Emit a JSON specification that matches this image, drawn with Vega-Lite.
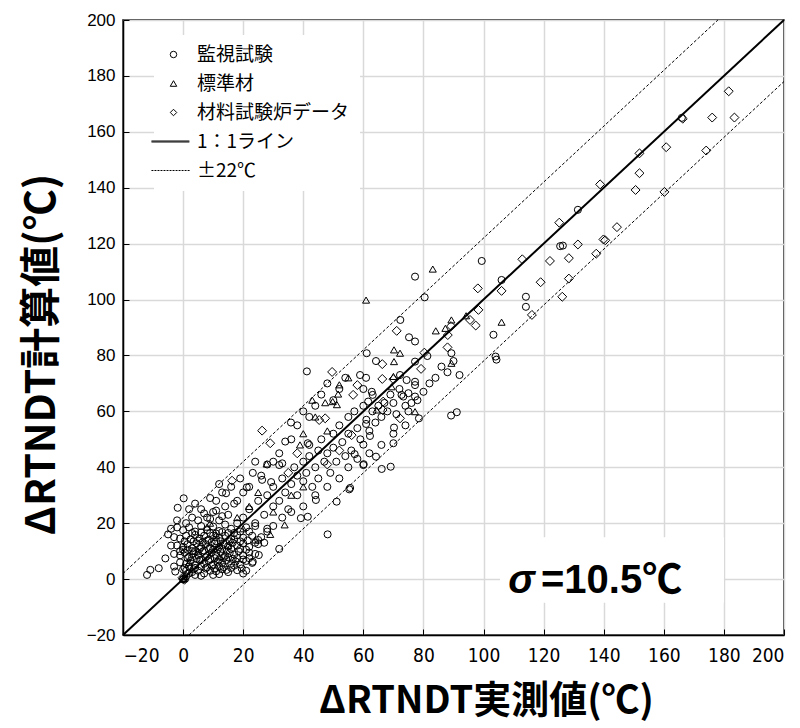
{
  "$schema": "https://vega.github.io/schema/vega-lite/v6.json",
  "width": 661,
  "height": 615,
  "autosize": "none",
  "padding": {"left": 123, "top": 20, "right": 16, "bottom": 93},
  "background": "white",
  "config": {
    "view": {"stroke": "black", "strokeWidth": 1.5},
    "font": "Liberation Sans",
    "axis": {
      "gridColor": "#d9d9d9",
      "gridWidth": 1.5,
      "domainColor": "black",
      "domainWidth": 1.5,
      "tickColor": "black",
      "tickWidth": 1,
      "tickSize": -6,
      "labelColor": "black",
      "titleColor": "black",
      "titleFont": "Noto Sans CJK JP",
      "titleFontWeight": "bold"
    }
  },
  "datasets": {
    "diamonds": [
      {"x":181.6,"y":174.5},{"x":166.3,"y":164.7},{"x":176.1,"y":165.1},{"x":183.5,"y":165.1},{"x":151.9,"y":152.3},{"x":160.8,"y":154.5},{"x":174.1,"y":153.3},{"x":151.9,"y":145.2},{"x":138.8,"y":141.2},{"x":150.6,"y":139.2},{"x":160.2,"y":138.5},{"x":125.2,"y":127.5},{"x":144.4,"y":125.9},{"x":131.4,"y":119.7},{"x":139.9,"y":121.5},{"x":140.5,"y":121.2},{"x":128.4,"y":114.8},{"x":137.5,"y":116.4},{"x":128.4,"y":107.5},{"x":126.2,"y":101},{"x":112.9,"y":114.4},{"x":122.1,"y":113.8},{"x":119,"y":106.2},{"x":98.1,"y":104},{"x":106,"y":103.1},{"x":116.1,"y":94.5},{"x":98.3,"y":96.3},{"x":95.5,"y":92.7},{"x":97.4,"y":90.7},{"x":89.2,"y":90.5},{"x":88.1,"y":87.3},{"x":71.1,"y":88.8},{"x":88,"y":82.9},{"x":80.3,"y":81},{"x":66.3,"y":76.9},{"x":79.2,"y":75.2},{"x":58,"y":69.4},{"x":66.3,"y":71.6},{"x":70,"y":71.5},{"x":56.6,"y":65.9},{"x":66.6,"y":63.5},{"x":66.4,"y":60.5},{"x":72.2,"y":57.5},{"x":56.1,"y":51.5},{"x":26.3,"y":53.1},{"x":29,"y":48.6},{"x":16.3,"y":35.2},{"x":45.3,"y":56.9},{"x":47.3,"y":57.5},{"x":49.6,"y":74.1},{"x":38,"y":45},{"x":48,"y":41},{"x":52,"y":46},{"x":35,"y":38},{"x":0,"y":0},{"x":0.3,"y":0.3},{"x":-0.2,"y":0.5},{"x":0.5,"y":-0.2}
    ],
    "triangles": [
      {"x":83.1,"y":110.9},{"x":60.9,"y":99.8},{"x":106,"y":91.9},{"x":94.2,"y":94.2},{"x":89.3,"y":92.7},{"x":87.3,"y":89.7},{"x":84.1,"y":88.8},{"x":89.3,"y":77.2},{"x":70.2,"y":82},{"x":72.2,"y":80.8},{"x":70.2,"y":77.8},{"x":69.4,"y":68.8},{"x":70,"y":72.5},{"x":64.4,"y":60.5},{"x":77.2,"y":59.9},{"x":47.3,"y":63.1},{"x":49.8,"y":63.5},{"x":51.2,"y":62.4},{"x":38.9,"y":48},{"x":27.8,"y":41.2},{"x":33.8,"y":19.4},{"x":29,"y":16},{"x":11,"y":15.8},{"x":20,"y":18},{"x":9,"y":20},{"x":8,"y":18.6},{"x":51.6,"y":66.2},{"x":52,"y":69.5},{"x":55,"y":72},{"x":44,"y":58},{"x":48,"y":53},{"x":40,"y":52},{"x":43,"y":64},{"x":2,"y":6},{"x":5,"y":10},{"x":12,"y":8},{"x":18,"y":22},{"x":22,"y":26},{"x":15,"y":12},{"x":24,"y":14},{"x":30,"y":24},{"x":36,"y":30},{"x":40,"y":33},{"x":25,"y":31},{"x":0,"y":0},{"x":0.4,"y":0.2}
    ],
    "circles": [
      {"x":77.2,"y":108.2},{"x":99.4,"y":113.8},{"x":80.4,"y":100.8},{"x":106,"y":107},{"x":114.1,"y":101},{"x":114.1,"y":97.4},{"x":103.3,"y":87.4},{"x":104,"y":79.6},{"x":104.3,"y":78.5},{"x":72.3,"y":92.7},{"x":75.2,"y":86.5},{"x":77.2,"y":85},{"x":89.3,"y":80.8},{"x":81.3,"y":79.8},{"x":61.1,"y":80.8},{"x":64.2,"y":78},{"x":77.2,"y":77.8},{"x":58.9,"y":73},{"x":60.9,"y":72},{"x":72.2,"y":73},{"x":74.4,"y":71.2},{"x":77.2,"y":70.6},{"x":77.2,"y":69.4},{"x":62.8,"y":67},{"x":63.1,"y":65.9},{"x":60,"y":68},{"x":72.7,"y":65.9},{"x":73.3,"y":65.3},{"x":75,"y":66.5},{"x":77.2,"y":65.3},{"x":61.6,"y":63.5},{"x":78.5,"y":57.5},{"x":89.2,"y":58.5},{"x":91.1,"y":59.7},{"x":70.2,"y":54.2},{"x":60.9,"y":55.5},{"x":62.2,"y":51.2},{"x":60,"y":48.1},{"x":70,"y":48.6},{"x":57.1,"y":44.7},{"x":64.2,"y":43.8},{"x":60,"y":40.8},{"x":66.1,"y":39.4},{"x":69.1,"y":40.2},{"x":55.6,"y":32.6},
      {"x":131.4,"y":132.1},{"x":125.5,"y":119.1},{"x":126.4,"y":119.3},{"x":166,"y":165},{"x":41.2,"y":74.3},
      {"x":35.9,"y":56},{"x":34,"y":49.2},{"x":41.5,"y":48.6},{"x":42,"y":48},{"x":32,"y":40.8},{"x":33,"y":41.4},{"x":23.2,"y":38},{"x":26.3,"y":35.5},{"x":29.3,"y":34.7},{"x":14.3,"y":30.7},{"x":21.2,"y":32.8},{"x":0.2,"y":28.9},{"x":-1.8,"y":25.5},{"x":-5.9,"y":7.4},{"x":-8.1,"y":3.9},{"x":-10.9,"y":3.3},{"x":-12,"y":1.5},{"x":-2.6,"y":2.7},{"x":48.1,"y":16},{"x":32,"y":10.8},{"x":51.1,"y":27.7},{"x":55.3,"y":32.1},{"x":60.1,"y":41.1},{"x":44.2,"y":28.3},{"x":39.2,"y":21.8},{"x":41.5,"y":22.3},{"x":25.2,"y":8.6},{"x":23.2,"y":6.2},
      {"x":1,"y":3},{"x":3,"y":2.5},{"x":5,"y":3},{"x":7,"y":2},{"x":9,"y":3},{"x":11,"y":2.8},{"x":13,"y":3.5},{"x":15,"y":2.5},{"x":18,"y":3.2},{"x":21,"y":3},{"x":4,"y":4},{"x":8,"y":4.2},{"x":12,"y":4.5},{"x":16,"y":4},{"x":2,"y":2},
      {"x":-1,"y":6},{"x":1,"y":5.5},{"x":2.5,"y":6.5},{"x":4,"y":5},{"x":5.5,"y":6.8},{"x":7,"y":5.5},{"x":8.5,"y":6.5},{"x":10,"y":5.2},{"x":11.5,"y":6.2},{"x":13,"y":5.8},{"x":14.5,"y":6.8},{"x":16,"y":5.5},{"x":17.5,"y":6.3},{"x":19,"y":5.2},{"x":21,"y":6.5},{"x":23,"y":5.8},{"x":6,"y":7},{"x":9,"y":7.2},{"x":12,"y":7},
      {"x":-3,"y":9},{"x":-1,"y":8.5},{"x":0.5,"y":9.5},{"x":2,"y":8},{"x":3.5,"y":9.2},{"x":5,"y":8.5},{"x":6.5,"y":9.8},{"x":8,"y":8.3},{"x":9.5,"y":9.5},{"x":11,"y":8.6},{"x":12.5,"y":9.8},{"x":14,"y":8.4},{"x":15.5,"y":9.3},{"x":17,"y":8.8},{"x":18.5,"y":10},{"x":20,"y":8.5},{"x":22,"y":9.5},{"x":24,"y":9},{"x":4,"y":10},{"x":7,"y":10.2},{"x":10,"y":10.5},
      {"x":-2,"y":12},{"x":0,"y":11.5},{"x":1.5,"y":12.5},{"x":3,"y":11},{"x":4.5,"y":12.8},{"x":6,"y":11.5},{"x":7.5,"y":12.5},{"x":9,"y":11.2},{"x":10.5,"y":12.7},{"x":12,"y":11.5},{"x":13.5,"y":12.6},{"x":15,"y":11.8},{"x":16.5,"y":13},{"x":18,"y":12},{"x":20,"y":12.8},{"x":22,"y":11.5},{"x":25,"y":12.5},{"x":27,"y":13},
      {"x":-3,"y":15},{"x":-1,"y":14.5},{"x":1,"y":15.5},{"x":2.5,"y":14.2},{"x":4,"y":15.8},{"x":5.5,"y":14.5},{"x":7,"y":15.5},{"x":8.5,"y":14},{"x":10,"y":15.6},{"x":12,"y":14.8},{"x":14,"y":15.5},{"x":16,"y":14.3},{"x":18,"y":15.7},{"x":20,"y":14.8},{"x":23,"y":15.5},{"x":26,"y":15},
      {"x":-4,"y":18},{"x":0,"y":17.5},{"x":2,"y":18.5},{"x":4,"y":17},{"x":6,"y":19},{"x":8,"y":17.5},{"x":10,"y":18.8},{"x":12,"y":17.2},{"x":14,"y":19.5},{"x":16,"y":18},{"x":18,"y":20},{"x":21,"y":18.5},{"x":24,"y":19},{"x":28,"y":18},
      {"x":0.5,"y":4},{"x":2,"y":4.5},{"x":3.5,"y":3.5},{"x":6,"y":4.5},{"x":7.5,"y":3.8},{"x":9.5,"y":4.8},{"x":10.5,"y":3.8},{"x":13.5,"y":4.3},{"x":14.5,"y":3.3},{"x":17,"y":4.8},{"x":19.5,"y":3.8},{"x":1.5,"y":7.5},{"x":3,"y":7.8},{"x":4.5,"y":7.2},{"x":7.5,"y":7.8},{"x":10.5,"y":7.5},{"x":13.5,"y":7.5},{"x":15,"y":7.8},{"x":16.5,"y":7.2},{"x":18,"y":7.5},{"x":20,"y":7},{"x":22,"y":7.5},{"x":0,"y":10.5},{"x":1.5,"y":10.5},{"x":3,"y":10},{"x":5.5,"y":10.8},{"x":8.5,"y":10.8},{"x":11.5,"y":10.5},{"x":13,"y":10.8},{"x":14.5,"y":10.2},{"x":16,"y":10.8},{"x":19,"y":10.8},{"x":21,"y":10.5},{"x":-1,"y":10},{"x":0.5,"y":13.5},{"x":3.5,"y":13.5},{"x":5,"y":13.8},{"x":6.5,"y":13.2},{"x":8,"y":13.8},{"x":9.5,"y":13.2},{"x":11,"y":13.5},{"x":12.5,"y":13.5},{"x":15.5,"y":13.5},{"x":17,"y":14.2},{"x":19,"y":13.5},{"x":21.5,"y":13.8},{"x":24,"y":13},{"x":3,"y":16.5},{"x":6,"y":16.7},{"x":9,"y":16.5},{"x":11,"y":16.3},{"x":13,"y":16.8},{"x":15,"y":16.5},{"x":17,"y":16.5},{"x":19,"y":17},{"x":22,"y":17},{"x":1,"y":20},{"x":5,"y":21},{"x":9,"y":21.5},{"x":13,"y":22.5},{"x":3,"y":22},{"x":7,"y":23.5},{"x":11,"y":24.5},{"x":-2,"y":21},{"x":2,"y":25},{"x":4,"y":27},{"x":9,"y":29},{"x":12,"y":34},{"x":19,"y":36},{"x":24,"y":42},{"x":1,"y":1},{"x":4,"y":1.5},{"x":6,"y":1.2},{"x":10,"y":1.5},{"x":12,"y":1.8},{"x":20,"y":2},{"x":0,"y":3.5},{"x":-3,"y":4.5},{"x":-4,"y":12},{"x":-5,"y":16},{"x":-2,"y":18.5},
      {"x":20,"y":22},{"x":22,"y":25},{"x":24,"y":20},{"x":25,"y":28},{"x":27,"y":23},{"x":28,"y":30},{"x":30,"y":26},{"x":30,"y":33},{"x":32,"y":28},{"x":33,"y":36},{"x":34,"y":31},{"x":35,"y":25},{"x":36,"y":34},{"x":37,"y":40},{"x":38,"y":30},{"x":38,"y":37},{"x":40,"y":42},{"x":40,"y":35},{"x":41,"y":38},{"x":42,"y":44},{"x":43,"y":33},{"x":44,"y":40},{"x":45,"y":46},{"x":45,"y":36},{"x":46,"y":50},{"x":47,"y":42},{"x":48,"y":45},{"x":49,"y":38},{"x":50,"y":52},{"x":50,"y":47},{"x":51,"y":42},{"x":52,"y":55},{"x":53,"y":49},{"x":54,"y":44},{"x":55,"y":58},{"x":55,"y":52},{"x":56,"y":46},{"x":57,"y":60},{"x":58,"y":54},{"x":59,"y":50},{"x":60,"y":62},{"x":61,"y":57},{"x":62,"y":53},{"x":63,"y":60},{"x":64,"y":56},{"x":65,"y":62},{"x":66,"y":58},{"x":67,"y":63},{"x":68,"y":60},{"x":69,"y":66},{"x":70,"y":63},{"x":71,"y":59},{"x":72,"y":68},{"x":74,"y":62},{"x":75,"y":60},{"x":76,"y":63},{"x":78,"y":64},{"x":80,"y":67},{"x":82,"y":70},{"x":84,"y":72},{"x":86,"y":76},{"x":88,"y":74},{"x":90,"y":78},{"x":92,"y":73},
      {"x":18,"y":28},{"x":20,"y":31},{"x":22,"y":33},{"x":26,"y":37},{"x":28,"y":41},{"x":30,"y":42},{"x":32,"y":45},{"x":36,"y":50},{"x":38,"y":55},{"x":40,"y":60},{"x":42,"y":58},{"x":44,"y":62},{"x":46,"y":66},{"x":48,"y":70},{"x":50,"y":64},{"x":52,"y":68},{"x":54,"y":72},
      {"x":25,"y":14},{"x":28,"y":17},{"x":30,"y":19},{"x":33,"y":22},{"x":36,"y":24},{"x":40,"y":26},{"x":44,"y":30},{"x":48,"y":33},{"x":52,"y":36},{"x":55,"y":40},{"x":58,"y":43},{"x":62,"y":45},{"x":66,"y":48},{"x":70,"y":52},{"x":74,"y":55},
      {"x":8,"y":22},{"x":10,"y":24},{"x":12,"y":21},{"x":14,"y":26},{"x":15,"y":23},{"x":17,"y":27},{"x":6,"y":25},{"x":11,"y":28},{"x":13,"y":31},{"x":16,"y":33},{"x":0,"y":0}
    ]
  },
  "layer": [
    {
      "data": {"values": [{"x": 105.5, "x2": 180, "y": -8.5, "y2": 15}]},
      "mark": {"type": "rect", "fill": "white", "stroke": null},
      "encoding": {
        "x": {"field": "x", "type": "quantitative", "scale": {"domain": [-20, 200], "nice": false, "zero": false},
          "axis": {"values": [-20,0,20,40,60,80,100,120,140,160,180,200], "labelFont": "Liberation Sans Narrow, DejaVu Sans Condensed, Liberation Sans", "labelFontSize": 19, "labelPadding": 17,
            "title": "ΔRTNDT実測値(℃)", "titleFontSize": 38, "titleX": 363, "titleY": 66, "titleBaseline": "middle", "titleAlign": "center"}},
        "x2": {"field": "x2"},
        "y": {"field": "y", "type": "quantitative", "scale": {"domain": [-20, 200], "nice": false, "zero": false},
          "axis": {"values": [-20,0,20,40,60,80,100,120,140,160,180,200], "labelFont": "Liberation Sans", "labelFontSize": 17, "labelPadding": 14,
            "title": "ΔRTNDT計算値(℃)", "titleFontSize": 41, "titleX": -81, "titleY": 334, "titleBaseline": "middle", "titleAlign": "center", "titleAngle": -90}},
        "y2": {"field": "y2"}
      }
    },
    {
      "data": {"values": [{"x": -20, "y": -20}, {"x": 200, "y": 200}]},
      "mark": {"type": "line", "color": "black", "strokeWidth": 2},
      "encoding": {
        "x": {"field": "x", "type": "quantitative"},
        "y": {"field": "y", "type": "quantitative"}
      }
    },
    {
      "data": {"values": [{"x": -20, "y": 2, "k": "u"}, {"x": 178, "y": 200, "k": "u"}, {"x": 2, "y": -20, "k": "l"}, {"x": 200, "y": 178, "k": "l"}]},
      "mark": {"type": "line", "color": "black", "strokeWidth": 1, "strokeDash": [3, 2]},
      "encoding": {
        "x": {"field": "x", "type": "quantitative"},
        "y": {"field": "y", "type": "quantitative"},
        "detail": {"field": "k"}
      }
    },
    {
      "data": {"name": "circles"},
      "mark": {"type": "point", "filled": false, "stroke": "black", "strokeWidth": 1, "opacity": 1, "size": 50},
      "encoding": {
        "x": {"field": "x", "type": "quantitative"},
        "y": {"field": "y", "type": "quantitative"},
        "shape": {"datum": "監視試験", "type": "nominal",
          "scale": {"domain": ["監視試験", "標準材", "材料試験炉データ", "1：1ライン", "±22℃"],
                    "range": ["circle", "triangle-up", "diamond", "M-6.8,-0.15H4.9M-6.8,0.15H4.9", "M-6.8,0h0.6M-5.87,0h0.6M-4.94,0h0.6M-4.01,0h0.6M-3.08,0h0.6M-2.15,0h0.6M-1.22,0h0.6M-0.29,0h0.6M0.64,0h0.6M1.57,0h0.6M2.5,0h0.6M3.43,0h0.6M4.36,0h0.6"]},
          "legend": {"orient": "none", "legendX": 31, "legendY": 15, "title": null, "fillColor": "white", "padding": 10,
            "labelFont": "Noto Sans CJK JP", "labelFontSize": 19, "labelColor": "black", "symbolSize": 42,
            "symbolStrokeColor": "black", "symbolFillColor": "transparent", "symbolStrokeWidth": 1, "rowPadding": 9, "labelOffset": 14}}
      }
    },
    {
      "data": {"name": "triangles"},
      "mark": {"type": "point", "filled": false, "stroke": "black", "strokeWidth": 1, "opacity": 1, "size": 50},
      "encoding": {
        "x": {"field": "x", "type": "quantitative"},
        "y": {"field": "y", "type": "quantitative"},
        "shape": {"datum": "標準材", "type": "nominal"}
      }
    },
    {
      "data": {"name": "diamonds"},
      "mark": {"type": "point", "filled": false, "stroke": "black", "strokeWidth": 1, "opacity": 1, "size": 80},
      "encoding": {
        "x": {"field": "x", "type": "quantitative"},
        "y": {"field": "y", "type": "quantitative"},
        "shape": {"datum": "材料試験炉データ", "type": "nominal"}
      }
    },
    {
      "data": {"values": [{"x": 112.6, "y": -0.7, "t": "σ"}]},
      "mark": {"type": "text", "font": "Liberation Sans", "fontSize": 40, "fontStyle": "italic", "fontWeight": "bold", "align": "center", "baseline": "middle", "color": "black"},
      "encoding": {
        "x": {"field": "x", "type": "quantitative"},
        "y": {"field": "y", "type": "quantitative"},
        "text": {"field": "t"}
      }
    },
    {
      "data": {"values": [{"x": 119.1, "y": -0.7, "t": "=10.5℃"}]},
      "mark": {"type": "text", "font": "Liberation Sans, Noto Sans CJK JP", "fontSize": 40, "fontWeight": "bold", "align": "left", "baseline": "middle", "color": "black"},
      "encoding": {
        "x": {"field": "x", "type": "quantitative"},
        "y": {"field": "y", "type": "quantitative"},
        "text": {"field": "t"}
      }
    }
  ]
}
